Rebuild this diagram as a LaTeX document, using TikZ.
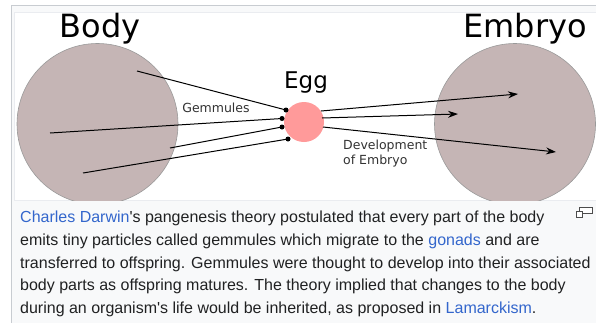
\documentclass[tikz,border=0pt]{standalone}
\usepackage{fontspec}
\newfontfamily\capfont{Liberation Sans}
\newfontfamily\labelfont{DejaVu Sans}
\usetikzlibrary{arrows.meta}
\definecolor{tissue}{HTML}{C5B5B5}
\definecolor{eggpink}{HTML}{FF9A9A}
\definecolor{linkblue}{HTML}{3366CC}
\definecolor{captext}{HTML}{202122}
\definecolor{thumbbg}{HTML}{F8F9FA}
\definecolor{thumbline}{HTML}{C8CCD1}
\definecolor{innerline}{HTML}{EAECF0}
\tikzset{
  cell/.style={circle, draw=gray!80, fill=tissue, line width=0.6pt, minimum size=161pt, inner sep=0pt},
  title/.style={font=\labelfont\fontsize{32}{32}\selectfont, anchor=base},
  small/.style={font=\labelfont\fontsize{12.5}{15}\selectfont, text=black!80},
  gem/.style={circle, fill=black, inner sep=0pt, minimum size=5pt},
  caption/.style={anchor=base west, text=captext, inner sep=0pt, font=\capfont\fontsize{16}{19}\selectfont},
}
\begin{document}
\begin{tikzpicture}[x=1pt,y=-1pt]
    \useasboundingbox (0,0) rectangle (596,322);
    % frame of the thumbnail
    \fill[thumbbg] (11,5) rectangle (597,323);
    \draw[thumbline, line width=0.8pt] (597,5) -- (11,5) -- (11,323);
    \fill[white] (14,12) rectangle (597,200);
    \draw[innerline, line width=0.8pt] (597,12) -- (14,12) -- (14,200) -- (597,200);

    \begin{scope}
    \clip (14,12) rectangle (597,200);
    \node[cell] (body) at (97.5,124) {};
    \node[cell] (embryo) at (515,124) {};
    \end{scope}
    \node[circle, fill=eggpink, minimum size=40pt, inner sep=0pt] (egg) at (304,122) {};

    \node[title] (bodytxt) at (100,37) {Body};
    \node[title] (embryotxt) at (525,37) {Embryo};
    \node[title, font=\labelfont\fontsize{23}{23}\selectfont] (eggtxt) at (306,88) {Egg};

    % gemmules travelling to the egg
    \coordinate (g1) at (137,71);
    \coordinate (g2) at (50,133);
    \coordinate (g3) at (170,148);
    \coordinate (g4) at (83,173);
    \node[gem] (d1) at (286,110) {};
    \node[gem] (d2) at (282,118.5) {};
    \node[gem] (d3) at (282,127) {};
    \node[gem] (d4) at (288,139) {};
    \foreach \i in {1,...,4}
      \draw[line width=1pt] (g\i) -- (d\i.center);
    \node[small] (gemtxt) at (216,108) {Gemmules};

    % development of the embryo
    \coordinate (e1) at (321,111);
    \coordinate (e2) at (322,118);
    \coordinate (e3) at (323,127);
    \coordinate (t1) at (518,94);
    \coordinate (t2) at (458,114);
    \coordinate (t3) at (556,152);
    \foreach \i in {1,2,3}
      \draw[line width=1pt, -{Stealth[length=10pt,width=7pt]}] (e\i) -- (t\i);
    \node[small, align=left, anchor=north west, inner sep=0pt] (devtxt) at (343,140) {Development\\of Embryo};

    % caption
    \node[caption] (cap1) at (20,222) {\textcolor{linkblue}{Charles Darwin}'s pangenesis theory postulated that every part of the body};
    \node[caption] (cap2) at (20,245) {emits tiny particles called gemmules which migrate to the \textcolor{linkblue}{gonads} and are};
    \node[caption] (cap3) at (20,268) {transferred to offspring. Gemmules were thought to develop into their associated};
    \node[caption] (cap4) at (20,290.5) {body parts as offspring matures. The theory implied that changes to the body};
    \node[caption] (cap5) at (20,313) {during an organism's life would be inherited, as proposed in \textcolor{linkblue}{Lamarckism}.};

    % enlarge icon
    \draw[black!70, line width=0.8pt, fill=white] (579,207) rectangle (592,213.5);
    \draw[black!70, line width=0.8pt, fill=white] (576,211.5) rectangle (582,217.5);
\end{tikzpicture}
\end{document}
